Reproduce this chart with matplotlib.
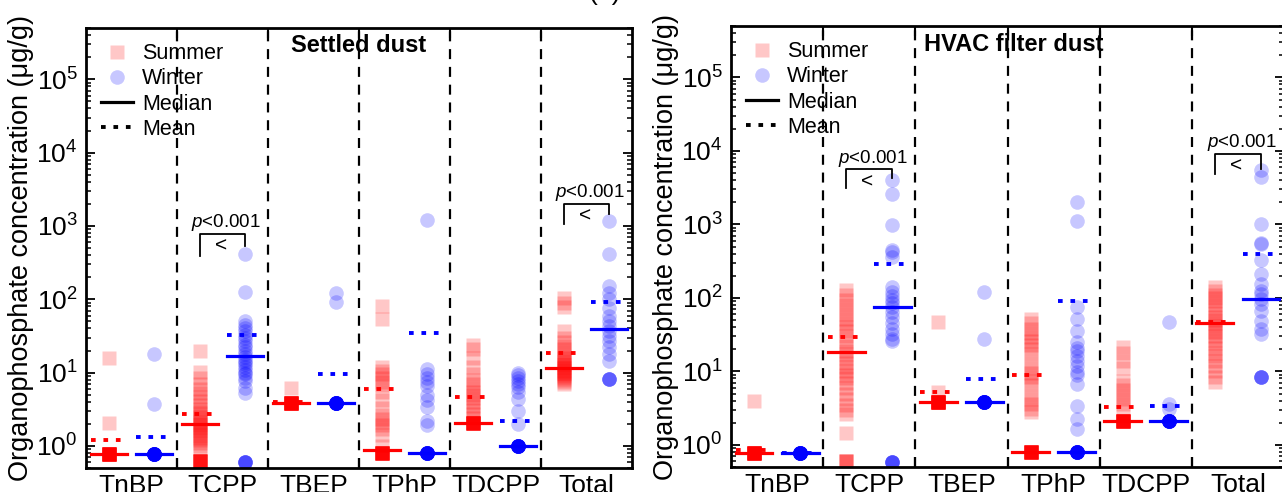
import matplotlib
matplotlib.use("Agg")
import matplotlib.pyplot as plt
from matplotlib.lines import Line2D

plt.rcParams['font.family'] = ['Liberation Sans', 'DejaVu Sans']
plt.rcParams['mathtext.fontset'] = 'custom'
plt.rcParams['mathtext.rm'] = 'Liberation Sans'
plt.rcParams['mathtext.it'] = 'Liberation Sans:italic'

compounds = ["TnBP", "TCPP", "TBEP", "TPhP", "TDCPP", "Total"]

# settled dust, summer (ug/g); repeated values are samples stacked at the same level
sd_summer_tnbp = [15.7, 2.04] + [0.77] * 18
sd_summer_tcpp = [19.7, 10.3, 8.5, 7, 6, 5.2, 4.6, 4.1, 3.6, 3.2, 2.9, 2.7, 2.5, 2.3,
                  2.1, 2.0, 1.9, 1.8, 1.7, 1.6, 1.5, 1.4, 1.3, 1.2, 1.1, 1.0, 0.95] + [0.62] * 10
sd_summer_tbep = [6.2] + [3.9] * 18
sd_summer_tphp = [81, 53, 12, 10.5, 9.5, 8.5, 7.5, 6.8, 5.5, 4.2, 3.3, 2.6, 2.3, 2.1,
                  1.9, 1.7, 1.4, 1.0] + [0.81] * 14
sd_summer_tdcpp = [24, 21, 16, 12, 9.5, 8, 7, 6.2, 5.5, 5, 4.5, 4, 3.5, 3.1, 2.7, 2.4] + [2.08] * 14
sd_summer_total = [105, 90, 78, 37, 30, 26, 23, 21, 19, 17, 16, 15, 14, 13, 12.5, 12,
                   11.5, 11, 10.5, 10, 9.5, 9, 8.5, 8, 7.5, 6.9]

# settled dust, winter
sd_winter_tnbp = [17.8, 3.7] + [0.78] * 18
sd_winter_tcpp = [410, 126, 50, 45, 41, 37, 33, 30, 27, 24, 22, 20, 18, 16.5, 15, 14,
                  13, 12, 11, 10, 9.5, 8.5, 7.7, 6.2, 5.3] + [0.61] * 5
sd_winter_tbep = [123, 92] + [3.9] * 18
sd_winter_tphp = [1200, 11.1, 9.6, 8.5, 7.5, 6.5, 5.0, 4.2, 3.4, 2.2, 1.9] + [0.79] * 15
sd_winter_tdcpp = [10, 9.3, 8.5, 7.8, 7, 6.3, 5.5, 4.3, 3.0, 2.0] + [1.0] * 15
sd_winter_total = [1180, 410, 150, 123, 100, 77, 59, 51, 43, 37, 31.5, 27, 22, 17.8,
                   14.4] + [8.1] * 4

# HVAC filter dust, summer
hv_summer_tnbp = [4.0] + [0.77] * 18
hv_summer_tcpp = [126, 110, 95, 80, 70, 60, 52, 45, 40, 35, 30, 26, 22, 19, 17, 15, 13,
                  11.5, 10, 9, 8, 7, 6, 5, 4.2, 3.5, 3.0, 2.6, 1.47] + [0.6] * 4
hv_summer_tbep = [46.5, 5.2] + [3.86] * 18
hv_summer_tphp = [52, 45, 38, 33, 29, 26, 23, 20, 17, 13, 11, 9.5, 8.5, 7.5, 6.5, 4.8,
                  4.2, 3.6, 3.1, 2.8] + [0.79] * 15
hv_summer_tdcpp = [21.2, 18, 14, 11, 7.5, 6.5, 5.5, 4.8, 4.2, 3.6, 3.1] + [2.08] * 15
hv_summer_total = [140, 125, 110, 100, 90, 80, 70, 62, 55, 50, 46, 42, 38, 34, 30, 27,
                   24, 21, 18, 16, 14, 12, 10, 8.5, 7.1]

# HVAC filter dust, winter
hv_winter_tnbp = [0.77] * 18
hv_winter_tcpp = [4000, 2570, 975, 445, 420, 360, 140, 120, 105, 95, 85, 75, 65, 55, 45,
                  38, 32, 28, 26] + [0.59] * 5
hv_winter_tbep = [122, 28] + [3.86] * 18
hv_winter_tphp = [2000, 1100, 74.6, 51.6, 35.9, 24.8, 21, 19, 16.4, 14, 12, 9.7, 8.8,
                  6.7, 3.4, 2.24, 1.64] + [0.79] * 15
hv_winter_tdcpp = [46.5, 3.6, 3.06] + [2.08] * 15
hv_winter_total = [5450, 4400, 1000, 550, 534, 325, 212, 155, 125, 113, 97, 83, 67, 49,
                   37.7, 32] + [8.45] * 4

sd_summer_median = [0.78, 1.97, 3.9, 0.88, 2.08, 11.7]
sd_summer_mean = [1.21, 2.76, 4.0, 5.9, 4.66, 18.4]
sd_winter_median = [0.78, 16.9, 3.9, 0.79, 1.0, 39.4]
sd_winter_mean = [1.33, 33, 9.5, 34.9, 2.19, 92]
hv_summer_median = [0.77, 18.2, 3.86, 0.79, 2.08, 45.7]
hv_summer_mean = [0.85, 29, 5.2, 9.0, 3.23, 47]
hv_winter_median = [0.77, 74.6, 3.86, 0.79, 2.08, 97]
hv_winter_mean = [0.77, 285, 7.86, 90, 3.4, 390]

sd_summer = [sd_summer_tnbp, sd_summer_tcpp, sd_summer_tbep, sd_summer_tphp, sd_summer_tdcpp, sd_summer_total]
sd_winter = [sd_winter_tnbp, sd_winter_tcpp, sd_winter_tbep, sd_winter_tphp, sd_winter_tdcpp, sd_winter_total]
hv_summer = [hv_summer_tnbp, hv_summer_tcpp, hv_summer_tbep, hv_summer_tphp, hv_summer_tdcpp, hv_summer_total]
hv_winter = [hv_winter_tnbp, hv_winter_tcpp, hv_winter_tbep, hv_winter_tphp, hv_winter_tdcpp, hv_winter_total]

RED = "#ff0000"
BLUE = "#0000ff"
MEAN_LS = (0, (1.2, 2.0))


def bracket(ax, i, top, left_end, right_end):
    x0, x1 = i + 0.25, i + 0.75
    ax.plot([x0, x0, x1, x1], [left_end, top, top, right_end], color="k", lw=1.3,
            zorder=4)
    ax.annotate("$p$<0.001", xy=((x0 + x1) / 2 + 0.04, top), xytext=(0, 0.5),
                textcoords="offset points", ha="center", va="bottom", fontsize=13.5)
    ax.annotate("<", xy=((x0 + x1) / 2 - 0.02, top), xytext=(0, -9),
                textcoords="offset points", ha="center", va="center", fontsize=15)


def draw_panel(ax, summer, winter, su_med, su_mean, wi_med, wi_mean):
    for i, (s, w) in enumerate(zip(summer, winter)):
        xs, xw = i + 0.25, i + 0.75
        ax.plot([xs] * len(s), s, ls="none", marker="s", ms=9.5, color=RED,
                alpha=0.22, mec="none", zorder=2)
        ax.plot([xw] * len(w), w, ls="none", marker="o", ms=10.5, color=BLUE,
                alpha=0.22, mec="none", zorder=2)
        ax.plot([xs - 0.2, xs + 0.2], [su_med[i]] * 2, color=RED, lw=2.3, zorder=3)
        ax.plot([xw - 0.2, xw + 0.2], [wi_med[i]] * 2, color=BLUE, lw=2.3, zorder=3)
        ax.plot([xs - 0.2, xs + 0.2], [su_mean[i]] * 2, color=RED, lw=2.8,
                ls=MEAN_LS, zorder=3)
        ax.plot([xw - 0.2, xw + 0.2], [wi_mean[i]] * 2, color=BLUE, lw=2.8,
                ls=MEAN_LS, zorder=3)

    for d in range(1, 6):
        ax.axvline(d, color="k", lw=1.6, ls=(0, (4.5, 3.5)), zorder=1)

    ax.set_yscale("log")
    ax.set_ylim(0.5, 5e5)
    ax.set_xlim(0, 6)
    ax.set_xticks([i + 0.5 for i in range(6)])
    ax.set_xticklabels(compounds, fontsize=19)
    ax.set_xticks(range(1, 6), minor=True)
    ax.tick_params(axis="x", which="major", length=0, pad=4)
    ax.tick_params(axis="x", which="minor", direction="in", length=7, width=1.5,
                   top=True, bottom=True)
    ax.tick_params(axis="y", which="major", direction="in", length=6.5, width=1.3,
                   left=True, right=True, labelsize=19, pad=6)
    ax.tick_params(axis="y", which="minor", direction="in", length=3.5, width=1.1,
                   left=True, right=True)
    for sp in ax.spines.values():
        sp.set_linewidth(2)
    ax.set_ylabel("Organophosphate concentration (\u03bcg/g)", fontsize=19.5, labelpad=2)

    handles = [
        Line2D([], [], ls="none", marker="s", ms=9.5, color=RED, alpha=0.22, mec="none",
               label="Summer"),
        Line2D([], [], ls="none", marker="o", ms=10.5, color=BLUE, alpha=0.22, mec="none",
               label="Winter"),
        Line2D([], [], color="k", lw=2.3, label="Median"),
        Line2D([], [], color="k", lw=2.8, ls=MEAN_LS, label="Mean"),
    ]
    ax.legend(handles=handles, loc="upper left", frameon=False, fontsize=15.5,
              handlelength=1.5, handletextpad=0.4, labelspacing=0.2,
              borderaxespad=0.3, borderpad=0.4)


fig = plt.figure(figsize=(12.82, 4.92), dpi=100)
ax1 = fig.add_axes([86 / 1282, 24 / 492, 546 / 1282, 440 / 492])
ax2 = fig.add_axes([731 / 1282, 25 / 492, 553 / 1282, 441 / 492])

draw_panel(ax1, sd_summer, sd_winter, sd_summer_median, sd_summer_mean,
           sd_winter_median, sd_winter_mean)
draw_panel(ax2, hv_summer, hv_winter, hv_summer_median, hv_summer_mean,
           hv_winter_median, hv_winter_mean)

ax1.text(3.0, 0.96, "Settled dust", transform=ax1.get_xaxis_transform(),
         ha="center", va="center", fontsize=17, fontweight="bold")
ax2.text(3.07, 0.958, "HVAC filter dust", transform=ax2.get_xaxis_transform(),
         ha="center", va="center", fontsize=17, fontweight="bold")

bracket(ax1, 1, 780, 390, 530)
bracket(ax1, 5, 2000, 1070, 1470)
bracket(ax2, 1, 5630, 3100, 4260)
bracket(ax2, 5, 9100, 4800, 5600)

fig.text(605 / 1282, 1 - 5 / 492, "(a)", ha="center", va="bottom", fontsize=19)

fig.savefig("out.png", dpi=100)
